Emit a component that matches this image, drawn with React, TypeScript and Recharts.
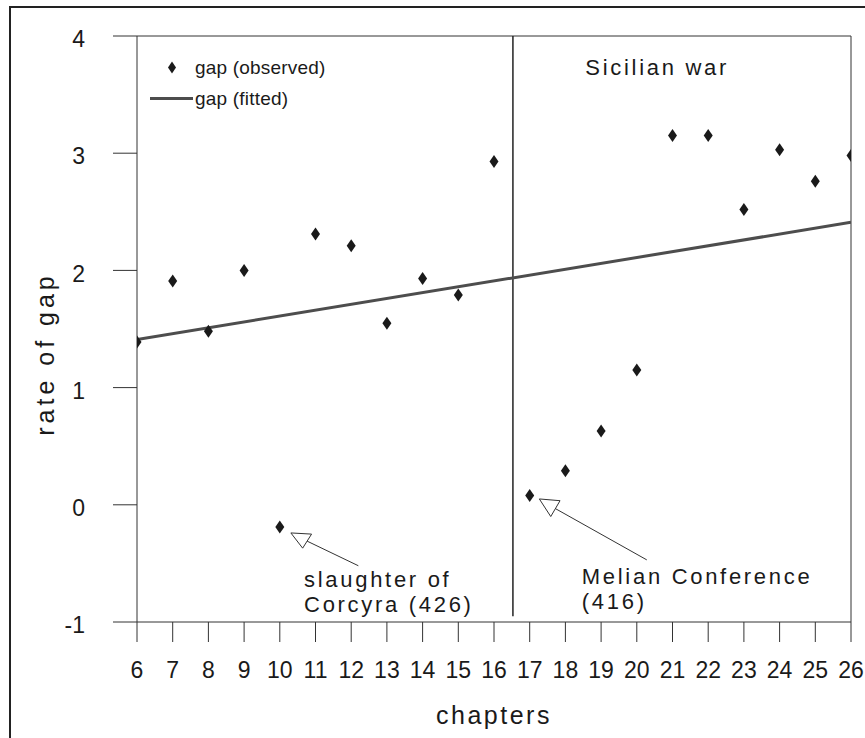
import {
  ComposedChart,
  Label,
  Legend,
  Line,
  ReferenceDot,
  ReferenceLine,
  Scatter,
  XAxis,
  YAxis,
} from 'recharts'

const FONT = "'Liberation Sans Narrow', 'Arial Narrow', 'Liberation Sans', Arial, sans-serif"
const INK = '#1a1a1a'
const FIT = '#4d4d4d'

const chapters = [6, 7, 8, 9, 10, 11, 12, 13, 14, 15, 16, 17, 18, 19, 20, 21, 22, 23, 24, 25, 26]
const gapObserved = [
  1.39, 1.91, 1.48, 2.0, -0.19, 2.31, 2.21, 1.55, 1.93, 1.79, 2.93,
  0.08, 0.29, 0.63, 1.15, 3.15, 3.15, 2.52, 3.03, 2.76, 2.98,
]
const fittedChapters = [6, 26]
const gapFitted = [1.41, 2.41]
const gapTicks = [-1, 0, 1, 2, 3, 4]

const observedData = chapters.map((x, i) => ({ x, y: gapObserved[i] }))
const fittedData = fittedChapters.map((x, i) => ({ x, y: gapFitted[i] }))

// arrow geometry in chapter / gap units
type Pt = [number, number]
interface Arrow {
  tip: Pt
  barbA: Pt
  barbB: Pt
  tail: Pt
}
const corcyraArrow: Arrow = { tip: [10.31, -0.24], barbA: [10.89, -0.25], barbB: [10.64, -0.37], tail: [12.2, -0.52] }
const melianArrow: Arrow = { tip: [17.27, 0.05], barbA: [17.85, 0.035], barbB: [17.59, -0.1], tail: [20.28, -0.47] }

const Diamond = (props: any) => {
  const { cx, cy } = props
  if (cx == null || cy == null) return null
  return <path d={`M${cx} ${cy - 6.5}L${cx + 4.5} ${cy}L${cx} ${cy + 6.5}L${cx - 4.5} ${cy}Z`} fill={INK} />
}

const seg = (a: Pt, b: Pt) => [
  { x: a[0], y: a[1] },
  { x: b[0], y: b[1] },
]

const arrowLines = (name: string, a: Arrow) => {
  const mid: Pt = [(a.barbA[0] + a.barbB[0]) / 2, (a.barbA[1] + a.barbB[1]) / 2]
  const parts: [Pt, Pt][] = [
    [a.tip, a.barbA],
    [a.barbA, a.barbB],
    [a.barbB, a.tip],
    [mid, a.tail],
  ]
  return parts.map(([p, q], i) => (
    <ReferenceLine key={`${name}-${i}`} segment={seg(p, q)} stroke="#333" strokeWidth={1} />
  ))
}

const note = (lines: string[], anchor: 'start' | 'middle' = 'start') => (props: any) => {
  const { x, y } = props.viewBox
  return (
    <g>
      {lines.map((line, i) => (
        <text
          key={line}
          x={x}
          y={y + i * 25}
          fill={INK}
          fontFamily={FONT}
          fontSize={22}
          letterSpacing={2.7}
          textAnchor={anchor}
        >
          {line}
        </text>
      ))}
    </g>
  )
}

const renderLegend = () => (
  <div style={{ fontFamily: FONT, fontSize: 19, letterSpacing: 0.2, color: INK }}>
    <div style={{ display: 'flex', alignItems: 'center', height: 31 }}>
      <svg width={47} height={31}>
        <path d="M24 9.5L28 15.5L24 21.5L20 15.5Z" fill={INK} />
      </svg>
      <span>gap (observed)</span>
    </div>
    <div style={{ display: 'flex', alignItems: 'center', height: 31 }}>
      <svg width={47} height={31}>
        <line x1={2} x2={45} y1={15.5} y2={15.5} stroke={FIT} strokeWidth={3} />
      </svg>
      <span>gap (fitted)</span>
    </div>
  </div>
)

export default function App() {
  return (
    <div
      style={{
        position: 'absolute',
        left: 0,
        top: 0,
        width: 865,
        height: 738,
        overflow: 'hidden',
        background: '#fff',
      }}
    >
      <div
        style={{
          position: 'absolute',
          left: 9,
          top: 6,
          width: 900,
          height: 800,
          borderTop: '2px solid #222',
          borderLeft: '2px solid #222',
        }}
      />
      <div style={{ position: 'absolute', left: 0, top: 0 }}>
        <ComposedChart width={865} height={738} margin={{ top: 36, right: 14, bottom: 0, left: 0 }}>
          <XAxis
            type="number"
            dataKey="x"
            domain={[6, 26]}
            ticks={chapters}
            interval={0}
            allowDataOverflow
            height={116}
            tickSize={20}
            tickMargin={20}
            stroke="#333"
            tick={{ fill: INK, fontSize: 23, fontFamily: FONT }}
          >
            <Label
              content={(props: any) => {
                const { x, y, width } = props.viewBox
                return (
                  <text
                    x={x + width / 2}
                    y={y + 102}
                    textAnchor="middle"
                    fill={INK}
                    fontFamily={FONT}
                    fontSize={25}
                    letterSpacing={2.5}
                  >
                    chapters
                  </text>
                )
              }}
            />
          </XAxis>
          <YAxis
            type="number"
            domain={[-1, 4]}
            ticks={gapTicks}
            interval={0}
            allowDataOverflow
            width={137}
            tickSize={24}
            tickMargin={28}
            stroke="#333"
            tick={{ fill: INK, fontSize: 23, fontFamily: FONT, dy: 3 }}
          >
            <Label
              content={(props: any) => {
                const { x, y, height } = props.viewBox
                const cx = x + 45
                const cy = y + height / 2 + 25
                return (
                  <text
                    x={cx}
                    y={cy}
                    transform={`rotate(-90 ${cx} ${cy})`}
                    textAnchor="middle"
                    dominantBaseline="central"
                    fill={INK}
                    fontFamily={FONT}
                    fontSize={25}
                    letterSpacing={4}
                  >
                    rate of gap
                  </text>
                )
              }}
            />
          </YAxis>

          <ReferenceLine y={4} stroke="#333" />
          <ReferenceLine x={26} stroke="#333" />
          <ReferenceLine segment={seg([16.53, 4], [16.53, -0.95])} stroke="#222" strokeWidth={1.5} />

          <Line
            data={fittedData}
            dataKey="y"
            stroke={FIT}
            strokeWidth={3}
            dot={false}
            activeDot={false}
            isAnimationActive={false}
          />
          <Scatter data={observedData} dataKey="y" shape={Diamond} isAnimationActive={false} />

          {arrowLines('corcyra', corcyraArrow)}
          {arrowLines('melian', melianArrow)}

          <ReferenceDot x={20.57} y={3.67} r={0} label={note(['Sicilian war'], 'middle')} />
          <ReferenceDot x={10.68} y={-0.7} r={0} label={note(['slaughter of', 'Corcyra (426)'])} />
          <ReferenceDot x={18.46} y={-0.68} r={0} label={note(['Melian Conference', '(416)'])} />

          <Legend
            layout="vertical"
            align="center"
            verticalAlign="middle"
            content={renderLegend}
            wrapperStyle={{ left: 148, top: 52, width: 220 }}
          />
        </ComposedChart>
      </div>
    </div>
  )
}
